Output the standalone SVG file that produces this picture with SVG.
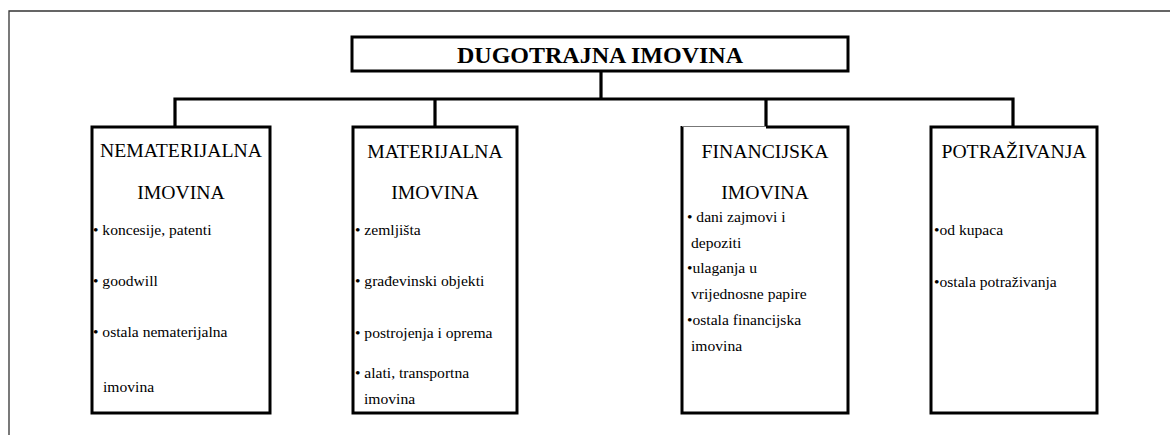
<svg xmlns="http://www.w3.org/2000/svg" width="1170" height="435" viewBox="0 0 1170 435">
<style>
.frame{fill:none;stroke:#333;stroke-width:1.3}
.box{fill:#fff;stroke:#000;stroke-width:3}
.conn{fill:none;stroke:#000;stroke-width:3.2}
text{font-family:'Liberation Serif','Times New Roman',Tinos,'DejaVu Serif',serif;fill:#000}
.title{font-weight:bold;font-size:24px;text-anchor:middle}
.head{font-size:19.7px;text-anchor:middle}
.item{font-size:15.6px}
</style>
<rect width="1170" height="435" fill="#fff"/>
<path class="frame" d="M9,435 V11 H1170"/>
<g id="connectors">
<path class="conn" d="M601,71 V99"/>
<path class="conn" d="M175,127 V99 H1013 V127"/>
<path class="conn" d="M435,99 V127"/>
<path class="conn" d="M766,99 V127"/>
</g>
<g id="root">
<rect class="box" x="352" y="37" width="496" height="34"/>
<text class="title" x="600" y="63">DUGOTRAJNA IMOVINA</text>
</g>
<g id="nematerijalna">
<rect class="box" x="92" y="127" width="178" height="286"/>
<text class="head" x="181" y="157">NEMATERIJALNA</text>
<text class="head" x="181" y="199">IMOVINA</text>
<text class="item" x="93" y="235">• koncesije, patenti</text>
<text class="item" x="93" y="286">• goodwill</text>
<text class="item" x="93" y="337">• ostala nematerijalna</text>
<text class="item" x="103" y="392">imovina</text>
</g>
<g id="materijalna">
<rect class="box" x="353" y="127" width="164" height="286"/>
<text class="head" x="435" y="158">MATERIJALNA</text>
<text class="head" x="435" y="199">IMOVINA</text>
<text class="item" x="355" y="235">• zemljišta</text>
<text class="item" x="355" y="286">• građevinski objekti</text>
<text class="item" x="355" y="338">• postrojenja i oprema</text>
<text class="item" x="355" y="378">• alati, transportna</text>
<text class="item" x="364" y="404">imovina</text>
</g>
<g id="financijska">
<rect x="682" y="127" width="166" height="286" fill="#fff"/>
<path class="box" fill="none" d="M766,127 H848 V413 H682 V126"/>
<path d="M682,126.5 H766" stroke="#777" stroke-width="1.2"/>
<text class="head" x="765" y="158">FINANCIJSKA</text>
<text class="head" x="765" y="199">IMOVINA</text>
<text class="item" x="687" y="222">• dani zajmovi i</text>
<text class="item" x="691" y="248">depoziti</text>
<text class="item" x="687" y="273">•ulaganja u</text>
<text class="item" x="691" y="299">vrijednosne papire</text>
<text class="item" x="687" y="325">•ostala financijska</text>
<text class="item" x="691" y="351">imovina</text>
</g>
<g id="potrazivanja">
<rect class="box" x="931" y="127" width="166" height="286"/>
<text class="head" x="1014" y="158">POTRAŽIVANJA</text>
<text class="item" x="934" y="235">•od kupaca</text>
<text class="item" x="934" y="287">•ostala potraživanja</text>
</g>
</svg>
